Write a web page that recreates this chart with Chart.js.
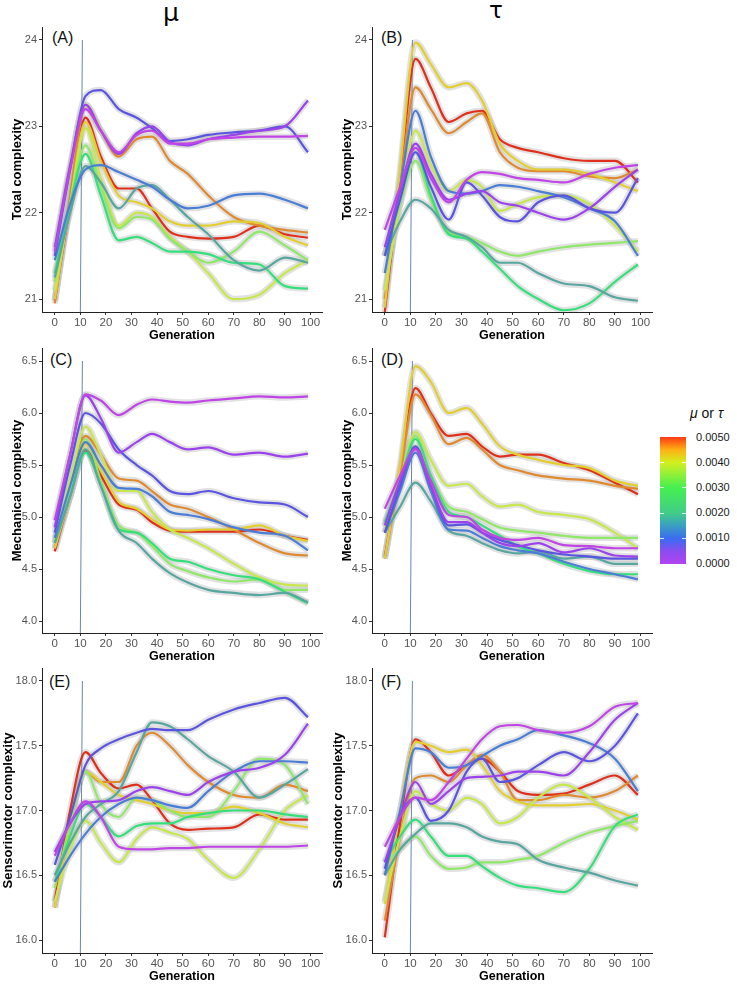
<!DOCTYPE html>
<html><head><meta charset="utf-8">
<script src="https://cdn.jsdelivr.net/npm/chart.js@4.4.1/dist/chart.umd.min.js"></script>
<style>
body{margin:0;width:737px;height:984px;overflow:hidden;background:#fff;font-family:"Liberation Sans",Arial,sans-serif;position:relative}
canvas{position:absolute}
.plab{position:absolute;font-size:16px;line-height:16px;color:#111}
.coltitle{position:absolute;line-height:1;color:#000;font-family:"DejaVu Sans","Liberation Sans",sans-serif}
.legl{position:absolute;left:696px;font-size:11px;line-height:11px;color:#1a1a1a}
.tk{position:absolute;width:4px;height:1px;background:rgba(255,255,255,0.8)}
</style></head><body>
<div class="coltitle" style="left:163px;top:0px;font-size:25px">μ</div>
<div class="coltitle" style="left:489px;top:-1px;font-size:23px">τ</div>
<div class="plab" style="left:52px;top:30px">(A)</div>
<div class="plab" style="left:381px;top:30px">(B)</div>
<div class="plab" style="left:50px;top:352px">(C)</div>
<div class="plab" style="left:381px;top:352px">(D)</div>
<div class="plab" style="left:49px;top:674px">(E)</div>
<div class="plab" style="left:381px;top:674px">(F)</div>
<div style="position:absolute;left:690px;top:406px;font-size:14px;line-height:14px;color:#111"><i>μ</i> or <i>τ</i></div>
<div id="bar" style="position:absolute;left:660px;top:437px;width:26px;height:127px;background:linear-gradient(to top,#b443f2 0%,#8a4df0 10%,#3a6cf2 20%,#3aa7b8 32%,#42cc88 40%,#45f050 60%,#a8f030 74%,#d2f020 80%,#ffb014 90%,#ff3a12 100%)"></div>
<div id="legend"></div>
<script>
// ---- data ----
const generations = [0, 6, 12, 18, 25, 32, 38, 45, 52, 60, 70, 80, 90, 99];
const levels = [0.0000, 0.0005, 0.0010, 0.0015, 0.0020, 0.0025, 0.0030, 0.0035, 0.0040, 0.0045, 0.0050];
const levelColors = ['#c044e6','#9b42ec','#5a55e0','#4a7ed6','#58a6a0','#34e07a','#8fe868','#c6e84a','#e2cf2e','#e08a30','#e0301c'];
const legendTicks = ['0.0050','0.0040','0.0030','0.0020','0.0010','0.0000'];
const xTickStep = 10;

// Total complexity, mu
const totalMu = [
 [21.55,22.5,23.2,22.95,22.7,22.9,22.95,22.8,22.8,22.85,22.87,22.88,22.88,22.89],
 [21.6,22.55,23.25,22.95,22.68,22.92,23.0,22.82,22.78,22.85,22.9,22.95,23.0,23.3],
 [21.5,22.5,23.35,23.42,23.2,23.1,22.98,22.83,22.85,22.9,22.93,22.95,23.0,22.7],
 [21.45,22.1,22.5,22.55,22.47,22.38,22.3,22.15,22.05,22.08,22.2,22.22,22.15,22.05],
 [21.25,22.0,22.54,22.35,22.05,22.28,22.32,22.15,21.95,21.75,21.45,21.33,21.48,21.42],
 [21.3,22.1,22.68,22.2,21.68,21.72,21.65,21.55,21.55,21.52,21.42,21.4,21.15,21.12],
 [21.2,22.1,22.78,22.3,21.82,21.95,21.92,21.7,21.55,21.42,21.55,21.78,21.62,21.45],
 [21.1,22.1,22.98,22.4,21.85,22.0,21.95,21.72,21.55,21.3,21.0,21.05,21.3,21.45],
 [21.0,22.1,23.05,22.6,22.2,22.12,22.05,21.9,21.85,21.85,21.9,21.88,21.72,21.62],
 [20.95,22.2,23.25,22.95,22.65,22.85,22.88,22.6,22.45,22.2,21.95,21.85,21.8,21.77],
 [20.98,22.1,23.1,22.65,22.28,22.28,22.05,21.78,21.72,21.7,21.72,21.85,21.75,21.71]
];
// Total complexity, tau
const totalTau = [
 [21.8,22.3,22.75,22.4,22.12,22.38,22.47,22.45,22.4,22.38,22.35,22.45,22.52,22.55],
 [21.6,22.25,22.8,22.45,22.15,22.22,22.25,22.12,22.08,22.0,21.92,22.05,22.3,22.5],
 [21.5,22.15,22.7,22.3,21.92,22.35,22.2,21.95,21.9,22.12,22.2,22.05,22.0,22.4],
 [21.3,22.3,23.18,22.65,22.25,22.22,22.25,22.32,22.3,22.25,22.18,22.05,21.9,21.5],
 [21.5,21.9,22.15,22.05,21.8,21.72,21.6,21.42,21.42,21.3,21.18,21.15,21.02,20.98],
 [21.5,22.2,22.7,22.2,21.75,21.7,21.55,21.35,21.15,21.0,20.87,20.95,21.2,21.4],
 [21.5,22.1,22.6,22.15,21.78,21.72,21.65,21.55,21.5,21.55,21.6,21.63,21.65,21.67],
 [21.1,22.1,22.95,22.55,22.25,22.38,22.3,22.02,22.1,22.18,22.2,22.1,21.85,21.55],
 [20.9,22.5,23.97,23.72,23.45,23.5,23.3,22.8,22.6,22.5,22.5,22.45,22.35,22.25],
 [21.0,22.3,23.45,23.2,22.92,23.05,23.15,22.7,22.52,22.48,22.48,22.42,22.4,22.5],
 [20.85,22.4,23.78,23.45,23.05,23.15,23.18,22.85,22.75,22.7,22.63,22.6,22.6,22.35]
];
// Mechanical complexity, mu
const mechMu = [
 [4.97,5.6,6.18,6.12,5.98,6.08,6.13,6.11,6.1,6.12,6.14,6.16,6.15,6.16],
 [4.9,5.6,6.17,5.95,5.62,5.72,5.8,5.72,5.65,5.67,5.6,5.62,5.58,5.61],
 [4.85,5.5,6.0,5.9,5.65,5.5,5.4,5.25,5.22,5.25,5.18,5.14,5.12,5.0],
 [4.8,5.3,5.72,5.5,5.28,5.27,5.2,5.05,5.02,4.98,4.9,4.85,4.82,4.68],
 [4.75,5.2,5.65,5.3,4.87,4.75,4.6,4.46,4.37,4.3,4.27,4.25,4.27,4.18],
 [4.75,5.2,5.62,5.3,4.88,4.85,4.75,4.6,4.57,4.5,4.44,4.4,4.28,4.17],
 [4.75,5.25,5.75,5.35,4.92,4.85,4.72,4.55,4.48,4.42,4.38,4.4,4.3,4.3],
 [4.78,5.35,5.87,5.6,5.25,5.25,5.05,4.88,4.8,4.7,4.55,4.42,4.35,4.34],
 [4.7,5.2,5.7,5.45,5.15,5.08,4.98,4.88,4.87,4.88,4.88,4.92,4.82,4.77],
 [4.7,5.3,5.78,5.6,5.37,5.35,5.25,5.12,5.08,5.0,4.88,4.75,4.65,4.63],
 [4.67,5.2,5.64,5.4,5.12,5.07,4.95,4.87,4.86,4.86,4.86,4.88,4.82,4.78]
];
// Mechanical complexity, tau
const mechTau = [
 [5.08,5.4,5.65,5.35,5.02,5.0,4.88,4.8,4.78,4.8,4.73,4.72,4.7,4.7],
 [4.92,5.35,5.66,5.3,4.95,4.95,4.85,4.75,4.72,4.75,4.66,4.7,4.63,4.62],
 [4.85,5.3,5.68,5.3,4.92,4.93,4.85,4.78,4.73,4.68,4.64,4.62,4.6,4.6],
 [4.85,5.25,5.62,5.25,4.88,4.87,4.8,4.72,4.68,4.65,4.57,4.5,4.45,4.4],
 [4.85,5.1,5.33,5.15,4.87,4.82,4.75,4.68,4.65,4.67,4.6,4.62,4.55,4.55],
 [4.95,5.35,5.75,5.4,5.05,5.0,4.92,4.82,4.72,4.65,4.55,4.48,4.45,4.45],
 [4.92,5.35,5.78,5.4,5.1,5.05,4.98,4.9,4.87,4.85,4.82,4.8,4.8,4.8],
 [4.9,5.35,5.82,5.55,5.3,5.32,5.2,5.1,5.12,5.05,5.02,4.98,4.85,4.7],
 [4.6,5.5,6.45,6.3,6.0,6.05,5.9,5.68,5.6,5.55,5.5,5.47,5.35,5.3],
 [4.6,5.4,6.18,5.98,5.7,5.76,5.65,5.5,5.45,5.4,5.37,5.35,5.3,5.27],
 [4.62,5.45,6.24,6.0,5.78,5.8,5.68,5.58,5.6,5.6,5.52,5.45,5.33,5.22]
];
// Sensorimotor complexity, mu
const sensMu = [
 [16.65,16.9,17.07,16.95,16.72,16.7,16.7,16.71,16.71,16.72,16.72,16.72,16.72,16.73],
 [16.68,16.9,17.05,17.07,17.08,17.15,17.18,17.15,17.12,17.22,17.3,17.33,17.43,17.67],
 [16.58,16.95,17.35,17.48,17.55,17.6,17.63,17.62,17.62,17.7,17.78,17.83,17.87,17.72],
 [16.45,16.65,16.82,16.95,17.05,17.1,17.08,17.04,17.02,17.15,17.3,17.38,17.38,17.37],
 [16.5,16.75,16.95,17.05,17.15,17.45,17.68,17.65,17.55,17.42,17.3,17.1,17.2,17.32],
 [16.45,16.8,17.05,16.95,16.8,16.88,16.9,16.9,16.95,16.98,17.0,17.0,16.97,16.95],
 [16.4,16.9,17.3,17.05,16.95,17.1,17.08,17.0,16.95,16.95,17.15,17.4,17.35,17.05],
 [16.3,16.7,16.92,16.75,16.6,16.78,16.87,16.83,16.78,16.62,16.48,16.7,17.0,17.12],
 [16.25,16.9,17.3,17.22,17.12,17.08,17.05,17.0,16.98,16.98,17.03,16.98,16.9,16.87],
 [16.25,16.9,17.3,17.22,17.22,17.5,17.6,17.5,17.35,17.22,17.12,17.1,17.2,17.15],
 [16.3,17.0,17.45,17.29,17.17,17.2,17.08,16.9,16.85,16.86,16.87,16.97,16.93,16.93]
];
// Sensorimotor complexity, tau
const sensTau = [
 [16.72,16.95,17.1,17.08,17.22,17.4,17.55,17.65,17.66,17.62,17.6,17.65,17.8,17.83],
 [16.6,16.95,17.22,17.05,17.15,17.25,17.26,17.27,17.3,17.3,17.27,17.45,17.7,17.83],
 [16.55,16.95,17.1,16.92,17.0,17.3,17.4,17.22,17.25,17.35,17.45,17.38,17.5,17.75],
 [16.5,17.0,17.48,17.45,17.33,17.35,17.42,17.5,17.55,17.62,17.58,17.52,17.4,17.15],
 [16.5,16.7,16.82,16.9,16.9,16.87,16.8,16.76,16.74,16.62,16.56,16.52,16.46,16.42],
 [16.6,16.8,16.93,16.8,16.65,16.65,16.57,16.48,16.42,16.4,16.37,16.55,16.88,16.97],
 [16.6,16.7,16.8,16.65,16.55,16.56,16.6,16.6,16.62,16.65,16.75,16.83,16.88,16.92],
 [16.3,16.8,17.15,17.05,17.0,17.1,17.05,16.9,16.95,17.1,17.2,17.1,16.95,16.85],
 [16.28,17.0,17.53,17.5,17.45,17.47,17.35,17.15,17.07,17.04,17.04,17.05,17.0,16.93],
 [16.15,16.8,17.25,17.27,17.22,17.35,17.43,17.3,17.08,17.08,17.12,17.1,17.15,17.27],
 [16.02,16.9,17.55,17.45,17.27,17.35,17.4,17.3,17.15,17.12,17.13,17.2,17.27,17.12]
];

// ---- panels ----
Chart.defaults.font.family = '"Liberation Sans", Arial, sans-serif';
const panels = [
 {series: totalMu,  title: 'Total complexity',        min: 20.85, max: 24.15, step: 1,   dec: 0, top: 24,  left: 0,   y: 0,   tpad: 10},
 {series: totalTau, title: 'Total complexity',        min: 20.85, max: 24.15, step: 1,   dec: 0, top: 24,  left: 330, y: 0,   tpad: 10},
 {series: mechMu,   title: 'Mechanical complexity',   min: 3.885, max: 6.625, step: 0.5, dec: 1, top: 6.5, left: 0,   y: 321, tpad: 9.5},
 {series: mechTau,  title: 'Mechanical complexity',   min: 3.885, max: 6.625, step: 0.5, dec: 1, top: 6.5, left: 330, y: 321, tpad: 9.5},
 {series: sensMu,   title: 'Sensorimotor complexity', min: 15.9,  max: 18.1,  step: 0.5, dec: 1, top: 18,  left: 0,   y: 641, tpad: 1},
 {series: sensTau,  title: 'Sensorimotor complexity', min: 15.9,  max: 18.1,  step: 0.5, dec: 1, top: 18,  left: 330, y: 641, tpad: 0.5}
];

panels.forEach(p => {
  const cv = document.createElement('canvas');
  cv.width = 335; cv.height = 345;
  cv.style.left = p.left + 'px'; cv.style.top = p.y + 'px';
  document.body.appendChild(cv);
  const datasets = [];
  p.series.forEach((vals, i) => {
    const pts = generations.map((g, k) => ({x: g, y: vals[k]}));
    datasets.push({data: pts, borderColor: levelColors[i], borderWidth: 2.2, order: 1, label: String(levels[i])});
    datasets.push({data: pts, borderColor: 'rgba(185,185,185,0.42)', borderWidth: 6.5, order: 3, label: 'band'});
  });
  datasets.push({data: [{x: 10, y: p.min}, {x: 10.8, y: p.top}], borderColor: '#6a86b4', borderWidth: 1, order: 2, tension: 0, cubicInterpolationMode: 'default', label: 'gen10'});
  new Chart(cv, {
    type: 'line',
    data: {datasets},
    options: {
      responsive: false, animation: false, devicePixelRatio: 1,
      layout: {padding: {top: 27, right: 13, left: 0, bottom: 0}},
      plugins: {legend: {display: false}, tooltip: {enabled: false}},
      elements: {point: {radius: 0}, line: {cubicInterpolationMode: 'monotone', fill: false}},
      scales: {
        x: {type: 'linear', min: -5, max: 104.5,
            afterFit: s => { s.height = 33; },
            ticks: {stepSize: xTickStep, includeBounds: false, color: '#555', font: {size: 11.5}, padding: 1, maxRotation: 0, autoSkip: false},
            grid: {drawOnChartArea: false, tickLength: 3, color: '#333'},
            border: {color: '#222', width: 1},
            title: {display: true, text: 'Generation', color: '#000', font: {size: 12.5, weight: 'bold'}, padding: {top: 0, bottom: 2}}},
        y: {type: 'linear', min: p.min, max: p.max,
            afterFit: s => { s.width = 42; },
            ticks: {stepSize: p.step, includeBounds: false, color: '#555', font: {size: 11}, padding: 2, callback: v => Number(v).toFixed(p.dec)},
            grid: {drawOnChartArea: false, tickLength: 3, color: '#333'},
            border: {color: '#222', width: 1},
            title: {display: true, text: p.title, color: '#000', font: {size: 13, weight: 'bold'}, padding: {top: p.tpad, bottom: 0}}}
      }
    }
  });
});

// ---- legend labels ----
const leg = document.getElementById('legend');
legendTicks.forEach((t, i) => {
  const y = 437 + i * 25.2;
  const d = document.createElement('div');
  d.className = 'legl'; d.textContent = t; d.style.top = (y - 5.5) + 'px';
  leg.appendChild(d);
  if (i > 0 && i < legendTicks.length - 1) {
    [660, 682].forEach(x => { const k = document.createElement('div'); k.className = 'tk'; k.style.left = x + 'px'; k.style.top = y + 'px'; leg.appendChild(k); });
  }
});
</script>
</body></html>
